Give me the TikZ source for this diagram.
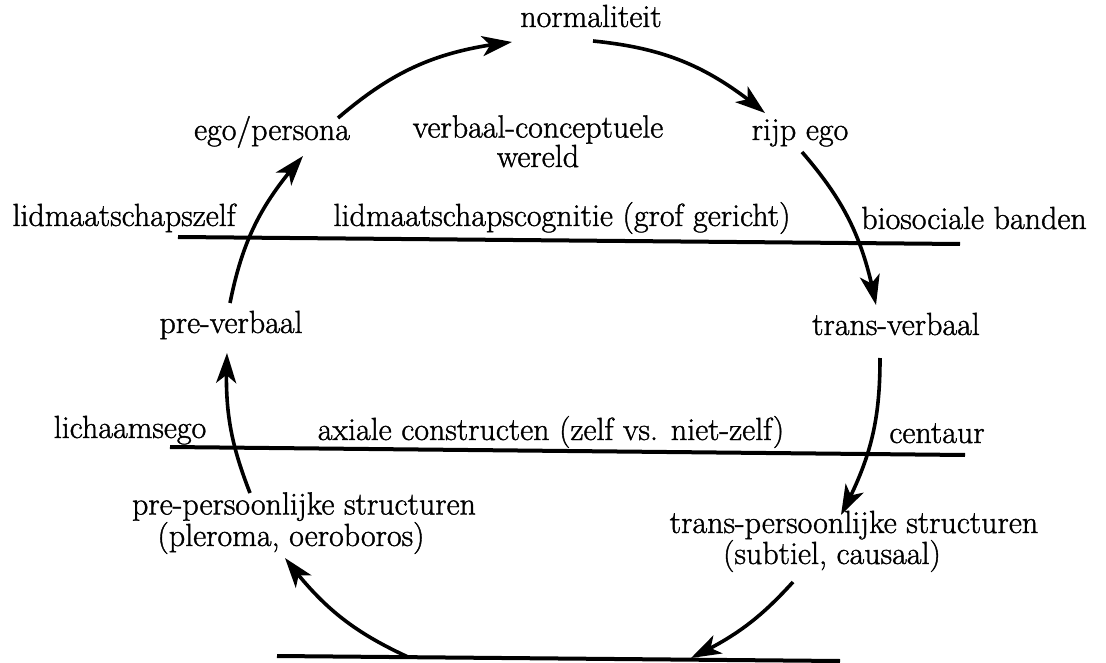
\documentclass[tikz,border=0pt]{standalone}
\usepackage{fontspec}
\newfontfamily\lblfont{Latin Modern Roman}[FakeBold=1.2]
\usetikzlibrary{arrows.meta,bending}
\tikzset{
  lbl/.style={inner sep=0pt, anchor=base, align=center, font=\lblfont\fontsize{32}{36}\selectfont},
  cyc/.style={line width=3.6pt, -{Stealth[length=30pt,width=20pt,inset=8pt]}},
  level/.style={line width=4pt},
}
\begin{document}
\begin{tikzpicture}[x=1pt,y=-1pt]
\useasboundingbox (0,0) rectangle (1106,663);
% labels (multi-line nodes: anchor base = baseline of last line)
\node[lbl] (norm) at (591,27) {normaliteit};
\node[lbl] (ego) at (272,140) {ego/persona};
\node[lbl, font=\lblfont\fontsize{32}{27}\selectfont] (verb) at (538,167) {verbaal-conceptuele\\wereld};
\node[lbl] (rijp) at (800,140) {rijp ego};
\node[lbl] (lidzelf) at (124,226) {lidmaatschapszelf};
\node[lbl] (lidcog) at (562,226) {lidmaatschapscognitie (grof gericht)};
\node[lbl] (bio) at (974,229) {biosociale banden};
\node[lbl] (prev) at (231,333) {pre-verbaal};
\node[lbl] (transv) at (896,335) {trans-verbaal};
\node[lbl] (lich) at (130,438) {lichaamsego};
\node[lbl] (axial) at (551,440) {axiale constructen (zelf vs. niet-zelf)};
\node[lbl] (cent) at (937,443) {centaur};
\node[lbl, font=\lblfont\fontsize{32}{29}\selectfont] (prep) at (304,546) {pre-persoonlijke structuren\\(pleroma, oeroboros)\hspace*{26pt}};
\node[lbl, font=\lblfont\fontsize{32}{31}\selectfont] (transp) at (854,564) {trans-persoonlijke structuren\\(subtiel, causaal)\hspace*{44pt}};
% level lines
\coordinate (l1a) at (178,237); \coordinate (l1b) at (960,244);
\coordinate (l2a) at (170,447); \coordinate (l2b) at (965,455);
\coordinate (l3a) at (277,656); \coordinate (l3b) at (840,661);
\draw[level] (l1a) -- (l1b);
\draw[level] (l2a) -- (l2b);
\draw[level] (l3a) -- (l3b);
% arrow ends
\coordinate (a1s) at (338,118); \coordinate (a1e) at (512,42);
\coordinate (a2s) at (593,41);  \coordinate (a2e) at (765,113);
\coordinate (a3s) at (802,152); \coordinate (a3e) at (876,305);
\coordinate (a4s) at (880,358); \coordinate (a4e) at (841,515);
\coordinate (a5s) at (793,582); \coordinate (a5e) at (691,658);
\coordinate (a6s) at (408,657); \coordinate (a6e) at (285,558);
\coordinate (a7s) at (250,493); \coordinate (a7e) at (227,353);
\coordinate (a8s) at (230,303); \coordinate (a8e) at (303,156);
\draw[cyc] (a1s) to[bend left=17] (a1e);
\draw[cyc] (a2s) to[bend left=17] (a2e);
\draw[cyc] (a3s) to[bend left=15] (a3e);
\draw[cyc] (a4s) to[bend left=14] (a4e);
\draw[cyc] (a5s) to[bend left=11] (a5e);
\draw[cyc] (a6s) to[bend left=14] (a6e);
\draw[cyc] (a7s) to[bend left=12] (a7e);
\draw[cyc] (a8s) to[bend left=15] (a8e);
\end{tikzpicture}
\end{document}
